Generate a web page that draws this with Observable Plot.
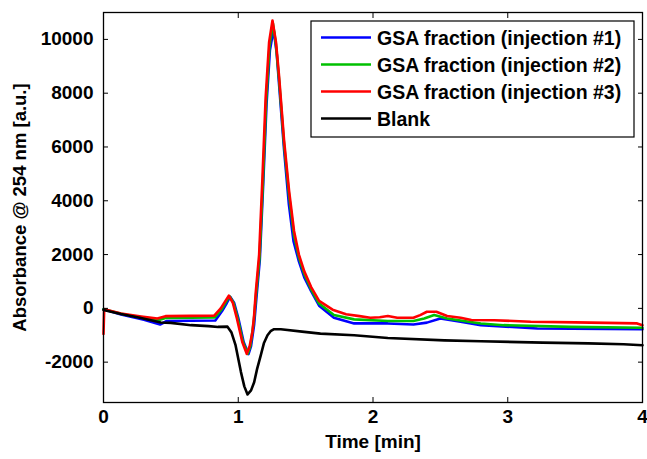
<!DOCTYPE html>
<html>
<head>
<meta charset="utf-8">
<script src="https://cdn.jsdelivr.net/npm/d3@7"></script>
<script src="https://cdn.jsdelivr.net/npm/@observablehq/plot@0.6"></script>
<style>
  html, body { margin: 0; padding: 0; background: #fff; }
  #chart { width: 647px; height: 459px; }
</style>
</head>
<body>
<div id="chart"></div>
<script>
// ---- Data ----
const seriesNames = ["GSA fraction (injection #1)", "GSA fraction (injection #2)", "GSA fraction (injection #3)", "Blank"];
const seriesColors = ["#0000ff", "#00c000", "#ff0000", "#000000"];

const timeBlue = [0, 0.13, 0.30, 0.42, 0.47, 0.65, 0.83, 0.88, 0.915, 0.94, 0.97, 1.0, 1.04, 1.076, 1.095, 1.118, 1.135, 1.16, 1.185, 1.21, 1.235, 1.262, 1.285, 1.305, 1.34, 1.375, 1.41, 1.45, 1.49, 1.54, 1.6, 1.71, 1.86, 2.11, 2.30, 2.40, 2.50, 2.65, 2.80, 3.22, 4.0];
const blue = [-30, -230, -420, -600, -470, -460, -450, -100, 200, 430, 200, -350, -1250, -1700, -1400, -600, 400, 1800, 4600, 7600, 9600, 10380, 9500, 8200, 5900, 3900, 2500, 1750, 1150, 650, 100, -350, -560, -560, -600, -530, -375, -500, -625, -750, -775];

const timeGreen = [0, 0.13, 0.30, 0.40, 0.46, 0.65, 0.825, 0.875, 0.91, 0.935, 0.965, 0.995, 1.035, 1.07, 1.09, 1.115, 1.132, 1.158, 1.183, 1.207, 1.232, 1.257, 1.28, 1.303, 1.34, 1.377, 1.414, 1.45, 1.49, 1.54, 1.6, 1.71, 1.86, 2.11, 2.30, 2.38, 2.454, 2.55, 2.65, 2.80, 2.97, 3.47, 4.0];
const green = [-30, -200, -360, -450, -360, -345, -340, -50, 250, 450, 200, -360, -1250, -1690, -1400, -500, 500, 1900, 4700, 7700, 9750, 10600, 9800, 8500, 6100, 4200, 2700, 1900, 1280, 720, 180, -250, -410, -470, -470, -380, -250, -375, -450, -560, -625, -690, -720];

const timeRed = [0, 0.005, 0.13, 0.28, 0.40, 0.46, 0.65, 0.82, 0.87, 0.93, 0.96, 0.99, 1.03, 1.063, 1.085, 1.105, 1.118, 1.13, 1.155, 1.18, 1.203, 1.229, 1.254, 1.28, 1.303, 1.34, 1.377, 1.414, 1.45, 1.49, 1.54, 1.6, 1.7, 1.8, 1.9, 1.98, 2.05, 2.11, 2.18, 2.30, 2.35, 2.40, 2.47, 2.55, 2.65, 2.73, 2.9, 3.17, 3.5, 3.96, 4.0];
const red = [-950, -30, -190, -300, -380, -290, -280, -275, 0, 475, 200, -375, -1250, -1690, -1400, -875, -250, 600, 2000, 4900, 7800, 9900, 10700, 9900, 8630, 6250, 4380, 2880, 2000, 1375, 800, 280, -50, -220, -290, -350, -330, -285, -350, -350, -250, -125, -125, -285, -350, -435, -440, -500, -520, -560, -625];

const timeBlank = [0, 0.13, 0.27, 0.425, 0.50, 0.65, 0.78, 0.85, 0.92, 0.95, 0.98, 1.02, 1.045, 1.069, 1.095, 1.118, 1.14, 1.167, 1.19, 1.217, 1.24, 1.266, 1.316, 1.49, 1.61, 1.86, 2.11, 2.53, 2.80, 3.26, 3.6, 3.86, 4.0];
const blank = [-60, -210, -350, -525, -540, -625, -660, -690, -680, -900, -1370, -2370, -2900, -3200, -3050, -2750, -2250, -1750, -1300, -1000, -850, -775, -775, -875, -940, -1000, -1100, -1190, -1220, -1275, -1300, -1335, -1370];

const xTicks = [0, 1, 2, 3, 4];
const yTicks = [-2000, 0, 2000, 4000, 6000, 8000, 10000];

// ---- Build tables ----
const seriesTimes = [timeBlue, timeGreen, timeRed, timeBlank];
const seriesValues = [blue, green, red, blank];
const tables = seriesTimes.map((ts, k) => ts.map((t, i) => ({t, v: seriesValues[k][i], s: seriesNames[k]})));

const font = "'Liberation Sans', Arial, Helvetica, sans-serif";
const plainNum = d => String(d);

const chart = Plot.plot({
  width: 647,
  height: 459,
  marginLeft: 103,
  marginRight: 5,
  marginTop: 12,
  marginBottom: 57,
  style: {fontFamily: font, fontSize: "19px", fontWeight: "bold", color: "black", background: "white", overflow: "visible"},
  x: {domain: [0, 4], label: null},
  y: {domain: [-3500, 11000], label: null},
  marks: [
    ...tables.map((rows, k) => Plot.line(rows, {x: "t", y: "v", stroke: seriesColors[k], strokeWidth: 2.6, curve: "linear"})),
    Plot.axisX({ticks: xTicks, tickSize: -5, tickPadding: 12, tickFormat: plainNum, label: null}),
    Plot.axisX({anchor: "top", ticks: xTicks, tickSize: -5, tickFormat: () => "", label: null}),
    Plot.axisY({ticks: yTicks, tickSize: -5, tickPadding: 15, tickFormat: plainNum, label: null}),
    Plot.axisY({anchor: "right", ticks: yTicks, tickSize: -5, tickFormat: () => "", label: null}),
    Plot.frame({stroke: "black", strokeWidth: 1.3}),
    Plot.text(["Time [min]"], {frameAnchor: "bottom", dy: 45, text: d => d, fontSize: 19, fontWeight: "bold", lineAnchor: "bottom", textAnchor: "middle"}),
    Plot.text(["Absorbance @ 254 nm [a.u.]"], {frameAnchor: "left", dx: -91, rotate: -90, text: d => d, fontSize: 18.5, fontWeight: "bold", lineAnchor: "top", textAnchor: "middle"})
  ]
});

document.getElementById("chart").appendChild(chart);

// ---- Legend (drawn into the SVG) ----
const svg = d3.select(chart);
const lg = svg.append("g").attr("class", "legend").attr("text-anchor", "start");
const lx = 311, ly = 21, lw = 323, lh = 116;
lg.append("rect").attr("x", lx).attr("y", ly).attr("width", lw).attr("height", lh)
  .attr("fill", "white").attr("stroke", "black").attr("stroke-width", 1.2);
seriesNames.forEach((name, i) => {
  const cy = ly + 16.5 + i * 27;
  lg.append("line").attr("x1", lx + 10).attr("x2", lx + 60).attr("y1", cy).attr("y2", cy)
    .attr("stroke", seriesColors[i]).attr("stroke-width", 2.5);
  lg.append("text").attr("x", lx + 66).attr("y", cy).attr("dy", "0.36em")
    .attr("text-anchor", "start")
    .attr("font-family", font).attr("font-size", 19.5).attr("font-weight", "bold").attr("fill", "black")
    .text(name);
});
</script>
</body>
</html>
